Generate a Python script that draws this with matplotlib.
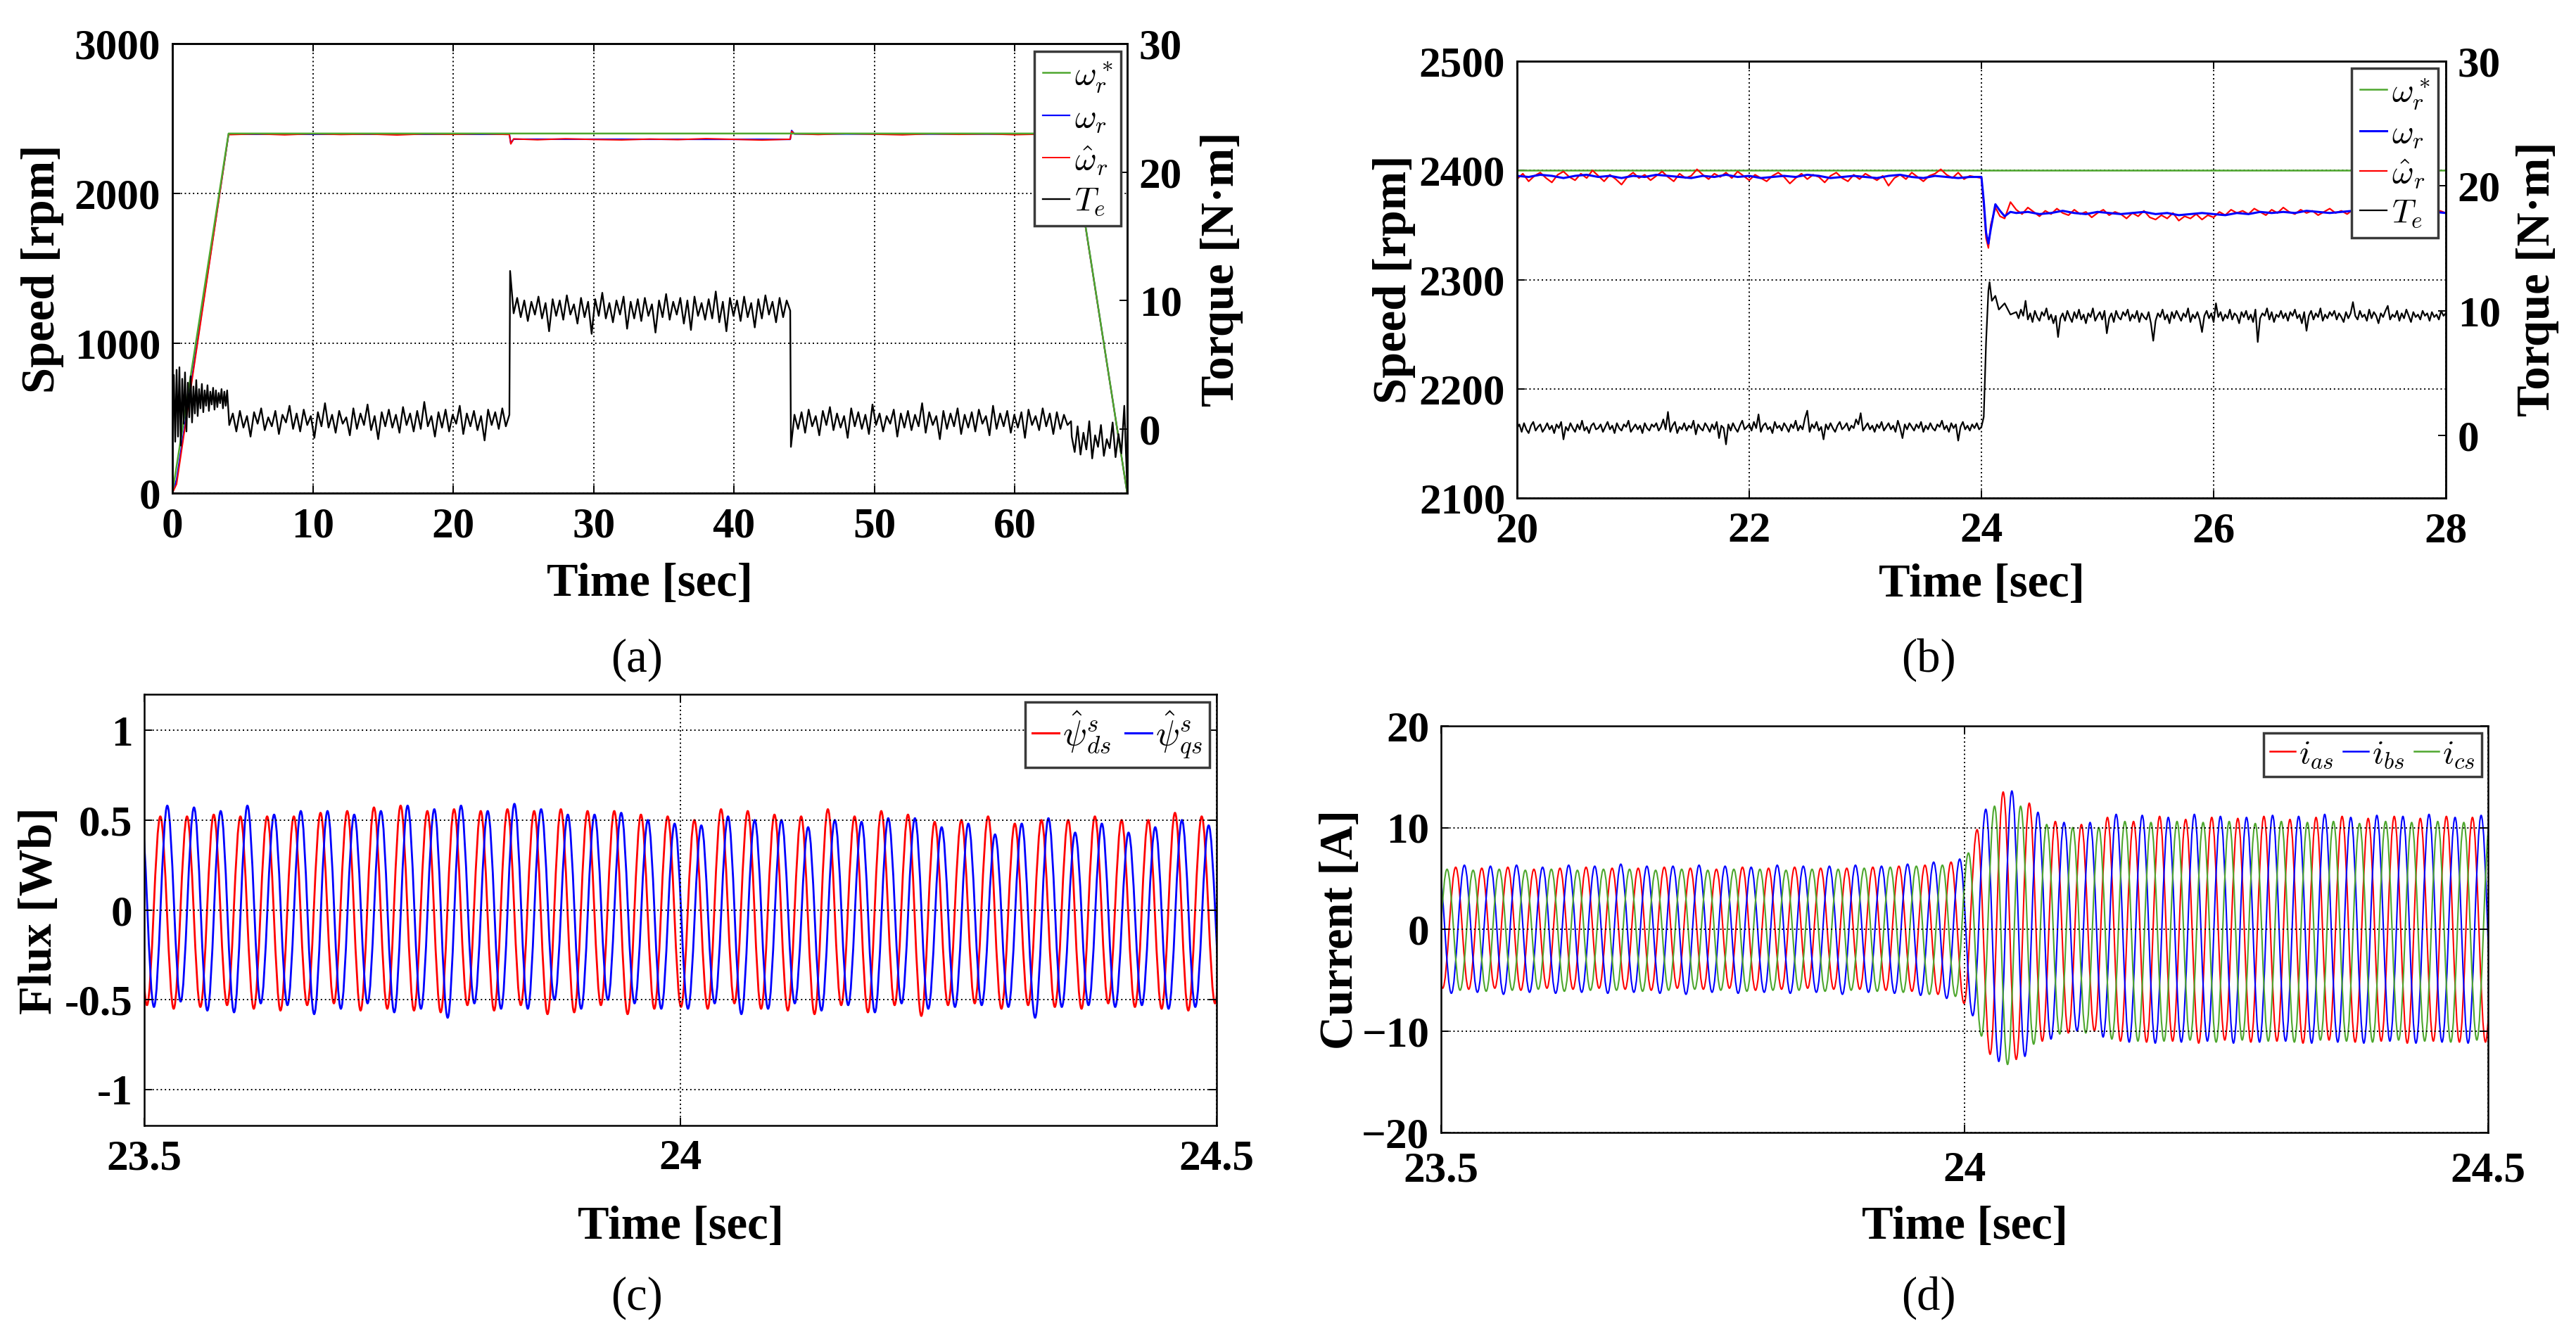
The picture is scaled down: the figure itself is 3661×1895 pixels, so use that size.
import numpy as np
import matplotlib
matplotlib.use('Agg')
import matplotlib.pyplot as plt
from matplotlib.path import Path
from matplotlib.patches import PathPatch
from matplotlib.lines import Line2D

# ======================= DATA =======================
# ---- (a) full run: speed [rpm] and torque [N.m] vs time [s]
a_ref_t = [0, 4, 64, 68]
a_ref_w = [0, 2400, 2400, 0]

a_wr_t = [0, 0.3, 4.0, 24.0, 24.1, 24.3, 44.0, 44.1, 44.3, 64.0, 68.0]
a_wr = [0, 90, 2395, 2395, 2335, 2362, 2361, 2420, 2397, 2396, 0]

a_wh_t = [0, 0.3, 4.0, 6, 8, 10, 12, 14, 16, 18, 20, 22, 24.0, 24.1, 24.3,
          26, 28, 30, 32, 34, 36, 38, 40, 42, 44.0, 44.1, 44.3,
          46, 48, 50, 52, 54, 56, 58, 60, 62, 64, 68]
a_wh = [0, 60, 2392, 2397, 2391, 2398, 2393, 2396, 2390, 2397, 2394, 2398, 2393, 2330, 2364,
        2358, 2365, 2360, 2357, 2363, 2359, 2366, 2361, 2356, 2362, 2415, 2398,
        2393, 2399, 2395, 2391, 2398, 2394, 2397, 2392, 2396, 2394, 0]

a_tq_A = [0.0, 4.2, -1.0, 4.6, -0.6, 4.8, -1.3, 3.9, 0.4, 4.4, -0.2, 3.6, 0.9, 4.1, 0.5, 3.3, 1.2, 3.8, 1.0, 3.1,
          1.6, 3.5, 1.3, 3.0, 1.8, 3.4, 1.4, 2.9, 1.9, 3.2, 1.5, 3.0, 1.7, 2.8, 2.0, 3.1, 1.6, 2.9, 1.8, 3.0, 1.2]
a_tq_B = [0.3, 1.2, -0.2, 1.4, 0.1, 1.0, -0.6, 1.3, 0.4, 1.6, -0.1, 0.9, 0.2, 1.4, -0.4, 1.1, 0.5, 1.8, 0.0, 1.2,
          -0.2, 1.5, 0.3, 1.0, -0.7, 1.3, 0.2, 2.0, 0.1, 1.1, -0.3, 1.4, 0.4, 0.9, -0.5, 1.6, 0.0, 1.2, 0.3, 1.9,
          -0.1, 1.0, -0.8, 1.3, 0.2, 1.5, 0.1, 1.1, -0.3, 1.7, 0.3, 1.2, -0.2, 1.4, 0.0, 2.1, 0.2, 1.0, -0.6, 1.3,
          0.1, 1.5, -0.2, 1.1, 0.4, 1.8, -0.4, 1.2, 0.2, 1.4, -0.1, 1.0, -0.9, 1.5, 0.3, 1.3, 0.0, 1.6, 0.2, 1.1]
a_tq_C = [12.3, 9.0, 10.2, 8.7, 10.0, 8.4, 9.9, 8.9, 10.3, 8.6, 9.8, 7.6, 10.1, 8.8, 10.0, 8.5, 10.4, 8.9, 9.7, 8.2,
          10.2, 8.7, 9.9, 7.4, 10.1, 8.8, 10.6, 8.6, 9.8, 8.3, 10.0, 8.9, 10.3, 7.8, 9.9, 8.6, 10.1, 8.4, 10.2, 8.8,
          9.7, 7.5, 10.0, 8.7, 10.5, 8.5, 9.9, 8.9, 10.2, 8.2, 10.0, 7.7, 10.3, 8.8, 9.8, 8.5, 10.1, 8.6, 10.7, 8.3,
          9.9, 7.6, 10.2, 8.8, 10.0, 8.4, 10.3, 8.7, 9.8, 7.9, 10.1, 8.6, 10.4, 8.9, 9.9, 8.3, 10.2, 8.7, 10.0, 9.2]
a_tq_D = [-1.4, 1.1, 0.0, 1.3, -0.3, 1.5, 0.2, 1.0, -0.5, 1.4, 0.3, 1.7, -0.1, 1.2, 0.1, 1.0, -0.7, 1.6, 0.2, 1.3,
          0.0, 1.1, -0.4, 1.9, 0.3, 1.2, -0.2, 1.0, 0.4, 1.5, -0.6, 1.2, 0.1, 1.4, -0.1, 1.1, 0.2, 2.0, -0.3, 1.3,
          0.3, 1.0, -0.8, 1.4, 0.0, 1.2, 0.2, 1.6, -0.4, 1.1, 0.1, 1.3, -0.2, 1.5, 0.4, 1.0, -0.5, 1.8, 0.0, 1.2,
          0.2, 1.4, -0.3, 1.1, 0.1, 1.3, -0.7, 1.5, 0.3, 1.0, -0.1, 1.6, 0.2, 1.2, -0.4, 1.3, 0.0, 1.1, 0.3, 0.6]
a_tq_E = [-0.6, -1.8, 0.2, -2.0, -0.3, -1.6, 0.6, -2.3, -0.5, -1.4, 0.3, -2.1, -0.8, -1.5, 0.5, -2.2, -0.4, -1.9, 1.8, -4.6]
a_tq_spans = [(0.0, 4.0), (4.05, 24.0), (24.05, 44.0), (44.05, 64.0), (64.05, 68.0)]

# ---- (b) zoom 20-28 s
b_ref_t = [20, 28]
b_ref_w = [2400, 2400]

b_wr_pre = [2395, 2394, 2396, 2395, 2393, 2395, 2396, 2394, 2395, 2393, 2395, 2394, 2396, 2395, 2394, 2393, 2395, 2394, 2396, 2394,
            2395, 2393, 2394, 2395, 2394, 2396, 2395, 2393, 2394, 2395, 2394, 2393, 2395, 2396, 2394, 2393, 2395, 2394, 2393, 2394, 2394]
b_wr_tr_t = [24.02, 24.04, 24.06, 24.08, 24.12, 24.16, 24.2, 24.25]
b_wr_tr = [2372, 2343, 2333, 2346, 2369, 2363, 2358, 2362]
b_wr_post = [2361, 2362, 2360, 2361, 2363, 2361, 2360, 2362, 2361, 2360, 2361, 2362, 2360, 2361, 2359, 2360, 2361, 2360, 2359, 2361,
             2360, 2362, 2361, 2362, 2361, 2363, 2362, 2361, 2362, 2363, 2361, 2362, 2361, 2362, 2363, 2361, 2362, 2361]

b_wh_pre = [2392, 2397, 2390, 2395, 2398, 2393, 2389, 2396, 2399, 2394, 2391, 2397, 2393, 2400, 2395, 2390, 2396, 2392, 2387, 2394,
            2398, 2393, 2396, 2391, 2395, 2399, 2394, 2390, 2397, 2393, 2395, 2401, 2396, 2392, 2397, 2394, 2398, 2393, 2399, 2395,
            2391, 2396, 2393, 2390, 2395, 2398, 2394, 2388, 2393, 2397, 2392, 2396, 2394, 2389, 2395, 2398, 2393, 2390, 2396, 2392,
            2397, 2394, 2391, 2395, 2386, 2393, 2396, 2392, 2398, 2394, 2390, 2395, 2397, 2401, 2396, 2393, 2398, 2392, 2395, 2394, 2393]
b_wh_tr_t = [24.02, 24.04, 24.06, 24.08, 24.12, 24.16, 24.2, 24.25]
b_wh_tr = [2368, 2338, 2329, 2350, 2366, 2358, 2356, 2371]
b_wh_post = [2364, 2360, 2366, 2362, 2358, 2363, 2360, 2365, 2361, 2359, 2364, 2360, 2362, 2357, 2361, 2364, 2359, 2362, 2360, 2356,
             2361, 2358, 2363, 2357, 2355, 2359, 2356, 2361, 2354, 2358, 2356, 2360, 2355, 2359, 2357, 2362, 2359, 2364, 2361, 2363,
             2360, 2365, 2362, 2359, 2364, 2361, 2366, 2362, 2360, 2364, 2361, 2363, 2359, 2362, 2365, 2361, 2363, 2360, 2364, 2362,
             2359, 2363, 2361, 2364, 2360, 2362, 2358, 2363, 2361, 2364, 2360, 2362, 2359, 2363, 2361]

b_tq_pre = [0.6, 0.9, 0.3, 1.0, 0.5, 0.2, 0.8, 1.1, 0.4, 0.7, 0.9, 0.3, 0.6, 1.0, 0.5, 0.8, 0.2, 0.9, 0.6, 1.1,
            -0.3, 0.7, 0.4, 1.0, 0.6, 0.3, 0.9, 0.5, 1.2, 0.4, 0.7, 0.2, 0.8, 1.0, 0.5, 0.6, 0.9, 0.3, 0.7, 1.1,
            0.5, 0.8, 0.2, 1.0, 0.6, 0.4, 0.9, 0.7, 1.2, 0.3, 0.6, 0.9, 0.5, 0.8, 0.2, 1.0, 0.6, 0.4, 0.9, 0.7,
            1.0, 0.4, 0.7, 1.3, 0.5, 1.9, 0.3, 0.8, 1.1, 0.2, 0.7, 0.5, 1.0, 0.4, 0.8, 0.6, 1.2, 0.1, 0.9, 0.6,
            0.4, 1.0, 0.7, 0.3, 0.9, 0.5, 1.1, -0.2, 0.8, 0.6, -0.7, 0.9, 0.4, 1.0, 0.6, 0.3, 0.8, 1.2, 0.5, 0.7,
            0.9, 0.4, 1.1, 0.6, 1.7, 0.3, 0.8, 1.0, 0.5, 0.7, 0.2, 1.1, 0.6, 0.8, 0.4, 1.0, 0.7, 0.3, 0.9, 0.6,
            1.2, 0.4, 0.8, 0.5, 1.4, 2.0, 0.3, 0.9, 0.6, 1.1, 0.4, 0.7, -0.3, 0.9, 0.5, 1.0, 0.6, 0.3, 0.8, 1.1,
            0.5, 0.7, 1.0, 0.4, 0.8, 0.6, 1.3, 0.9, 1.8, 0.4, 0.7, 1.0, 0.5, 0.8, 0.3, 0.9, 0.6, 1.1, 0.4, 0.7,
            1.0, 0.5, 0.8, 0.3, 1.2, 0.6, -0.2, 0.9, 0.5, 1.0, 0.7, 0.4, 0.9, 0.6, 1.1, 0.3, 0.8, 0.5, 1.0, 0.6,
            0.4, 0.9, 0.7, 1.2, 0.5, 0.8, 0.3, 1.0, 0.6, 0.9, -0.4, 0.7, 1.1, 0.5, 0.8, 0.4, 0.9, 0.6, 1.0, 0.5,
            0.7]
b_tq_tr_t = [24.02, 24.04, 24.06, 24.07, 24.09, 24.12, 24.15, 24.2, 24.25]
b_tq_tr = [1.5, 7.5, 11.6, 12.3, 10.8, 11.2, 10.1, 10.6, 9.7]
b_tq_post = [9.9, 9.4, 10.1, 9.6, 10.8, 9.3, 9.8, 9.1, 10.0, 9.5, 9.2, 9.9, 9.6, 10.2, 9.3, 9.7, 9.0, 9.6, 7.9, 9.4,
             9.8, 9.2, 10.0, 9.5, 9.1, 9.9, 9.4, 10.1, 9.3, 9.7, 9.0, 9.8, 9.5, 10.2, 9.2, 9.6, 9.9, 9.3, 10.0, 8.2,
             9.4, 9.8, 9.1, 10.0, 9.5, 9.3, 9.9, 9.6, 10.1, 9.2, 9.7, 9.4, 10.0, 9.1, 9.8, 9.5, 9.3, 9.9, 9.0, 7.6,
             9.2, 9.8, 9.5, 10.1, 9.3, 9.7, 9.0, 9.9, 9.4, 10.0, 9.6, 9.2, 9.8, 9.5, 10.2, 9.1, 9.7, 9.4, 9.9, 9.3,
             8.3, 9.6, 10.0, 9.4, 9.8, 9.1, 10.6, 9.5, 9.9, 9.2, 9.7, 9.4, 10.1, 9.3, 9.8, 9.6, 9.0, 9.9, 9.5, 10.0,
             9.3, 9.7, 9.1, 10.1, 7.5, 9.4, 9.8, 9.6, 10.2, 9.3, 9.9, 9.1, 9.7, 9.5, 10.0, 9.4, 9.8, 9.2, 9.9, 9.6,
             10.1, 9.4, 9.7, 9.0, 9.9, 8.4, 9.6, 10.0, 9.3, 9.8, 9.5, 10.2, 9.2, 9.7, 9.4, 9.9, 9.6, 10.0, 9.3, 9.8,
             9.5, 9.1, 9.9, 9.4, 9.8, 10.7, 9.6, 9.3, 10.0, 9.5, 9.7, 9.2, 10.1, 9.4, 9.9, 9.6, 9.0, 9.8, 9.5, 10.0,
             10.4, 9.3, 9.7, 9.5, 10.0, 9.2, 9.8, 9.4, 10.1, 9.6, 9.1, 9.9, 9.5, 9.7, 9.3, 10.0, 9.6, 9.8, 9.2, 9.9,
             9.5, 9.7, 9.3, 10.0, 9.6, 9.8]

# ---- (c) estimated stator flux: successive extrema (half-period spacing)
c_half_period = 0.01245
c_ds_t0 = 23.4901
c_ds = [0.52, -0.53, 0.52, -0.55, 0.52, -0.54, 0.53, -0.53, 0.52, -0.55, 0.52, -0.56, 0.52, -0.53, 0.54, -0.52,
        0.55, -0.56, 0.57, -0.55, 0.58, -0.56, 0.55, -0.57, 0.56, -0.53, 0.55, -0.56, 0.56, -0.53, 0.55, -0.58,
        0.56, -0.57, 0.55, -0.53, 0.55, -0.58, 0.53, -0.55, 0.52, -0.54,
        0.50, -0.55, 0.56, -0.52, 0.55, -0.55, 0.53, -0.56, 0.52, -0.58, 0.56, -0.53, 0.52, -0.57, 0.55, -0.53,
        0.53, -0.59, 0.49, -0.53, 0.50, -0.52, 0.52, -0.55, 0.48, -0.53, 0.50, -0.54, 0.50, -0.55, 0.52, -0.52,
        0.50, -0.54, 0.50, -0.55, 0.54, -0.56, 0.52, -0.52, 0.50]
c_qs_t0 = 23.4966
c_qs = [0.57, -0.54, 0.58, -0.51, 0.57, -0.56, 0.55, -0.57, 0.58, -0.52, 0.53, -0.53, 0.55, -0.58, 0.55, -0.55,
        0.53, -0.52, 0.55, -0.57, 0.58, -0.55, 0.56, -0.60, 0.58, -0.52, 0.55, -0.55, 0.59, -0.55, 0.56, -0.50,
        0.53, -0.55, 0.53, -0.50, 0.54, -0.52, 0.50, -0.55, 0.48, -0.55,
        0.47, -0.52, 0.52, -0.58, 0.50, -0.55, 0.50, -0.52, 0.46, -0.56, 0.50, -0.53, 0.49, -0.57, 0.51, -0.52,
        0.51, -0.55, 0.46, -0.54, 0.48, -0.53, 0.42, -0.54, 0.48, -0.60, 0.51, -0.54, 0.43, -0.53, 0.48, -0.54,
        0.43, -0.53, 0.46, -0.55, 0.50, -0.54, 0.47, -0.52, 0.48]

# ---- (d) phase currents: successive extrema
d_half_period = 0.01245
d_as_t0 = 23.4891
d_as = [6.0, -5.8, 6.1, -5.9, 6.0, -5.8, 6.1, -6.0, 5.9, -5.8, 6.0, -5.9, 6.1, -5.8, 6.0, -5.9, 6.0, -6.0, 6.1, -5.8,
        6.0, -5.9, 5.9, -5.8, 6.1, -6.0, 6.0, -5.9, 6.1, -5.8, 6.0, -5.9, 6.0, -5.9, 6.1, -6.0, 6.2, -6.1, 6.3, -6.4,
        6.6, -7.3, 9.8, -12.3, 13.5, -12.8, 12.4, -11.0, 10.6, -10.2, 10.3, -10.0, 11.0, -11.0, 10.6, -11.1,
        11.1, -11.0, 10.8, -11.2, 11.0, -10.9, 10.9, -11.1, 11.1, -11.0, 10.8, -11.2, 11.0, -10.9, 11.1, -11.1,
        10.9, -11.0, 11.1, -11.2, 10.9, -11.0, 11.1, -11.1, 11.0, -11.1, 10.9]
d_bs_t0 = 23.4974
d_bs = [6.2, -6.3, 6.3, -6.2, 6.2, -6.4, 6.3, -6.2, 6.1, -6.3, 6.3, -6.2, 6.2, -6.3, 6.4, -6.2, 6.2, -6.3, 6.2, -6.4,
        6.3, -6.2, 6.2, -6.3, 6.1, -6.2, 6.3, -6.3, 6.2, -6.2, 6.2, -6.4, 6.3, -6.2, 6.2, -6.3, 6.4, -6.5, 6.6, -6.8,
        6.9, -8.5, 11.8, -13.0, 13.6, -12.5, 11.5, -10.8, 10.5, -10.0, 10.5, -10.6, 11.3, -11.1, 11.2, -11.2,
        11.0, -11.1, 11.3, -11.0, 11.1, -11.2, 11.0, -11.1, 11.2, -11.0, 11.1, -11.2, 11.3, -11.1, 11.0, -11.2,
        11.2, -11.0, 11.1, -11.2, 11.3, -11.1, 11.0, -11.2, 11.2, -11.1, 11.0]
d_cs_t0 = 23.4933
d_cs = [-6.0, 5.9, -6.0, 5.8, -6.1, 5.9, -6.0, 5.8, -5.9, 5.9, -6.1, 5.8, -6.0, 5.9, -6.0, 5.9, -6.1, 5.8, -6.0, 5.9,
        -5.9, 5.8, -6.0, 5.9, -6.1, 5.9, -6.0, 5.8, -6.0, 5.9, -6.1, 5.9, -6.0, 6.0, -6.1, 6.1, -6.2, 6.2, -6.4, 6.3,
        -6.6, 7.5, -10.5, 12.1, -13.3, 12.1, -11.3, 10.3, -10.3, 10.0, -10.2, 10.0, -10.8, 10.6, -11.0, 10.5,
        -11.0, 10.6, -10.9, 10.5, -11.1, 10.6, -10.9, 10.4, -11.0, 10.6, -11.1, 10.5, -10.9, 10.6, -11.0, 10.4,
        -11.1, 10.6, -10.9, 10.5, -11.0, 10.6, -11.1, 10.5, -10.9, 10.6, -11.0]

# tick labels
a_xticks = [0, 10, 20, 30, 40, 50, 60]
a_yticks = [0, 1000, 2000, 3000]
a_tticks = [0, 10, 20, 30]
b_xticks = [20, 22, 24, 26, 28]
b_yticks = [2100, 2200, 2300, 2400, 2500]
c_xticks = [23.5, 24, 24.5]
c_xlabels = ['23.5', '24', '24.5']
c_yticks = [-1, -0.5, 0, 0.5, 1]
c_ylabels = ['-1', '-0.5', '0', '0.5', '1']
d_yticks = [-20, -10, 0, 10, 20]

# ======================= STYLE / LAYOUT =======================
plt.rcParams['mathtext.fontset'] = 'cm'
plt.rcParams['font.family'] = ['Liberation Serif', 'DejaVu Serif']
plt.rcParams['font.weight'] = 'bold'
plt.rcParams['font.size'] = 44

GREEN = '#4ea72e'
BLUE = '#0000ff'
RED = '#ff0000'

W, H = 3662, 1895
fig = plt.figure(figsize=(W / 100, H / 100), dpi=100)


def add_ax(x0, x1, y0, y1):
    return fig.add_axes([x0 / W, 1 - y1 / H, (x1 - x0) / W, (y1 - y0) / H])


def ftext(x, y, s, **kw):
    fig.text(x / W, 1 - y / H, s, ha='center', va='center', **kw)


def style(ax, right=True, xpad=14):
    for sp in ax.spines.values():
        sp.set_linewidth(1.8)
    ax.tick_params(direction='in', length=8, width=1.4, top=True, right=right, labelsize=44)
    ax.tick_params(axis='x', pad=xpad)
    ax.tick_params(axis='y', pad=12)
    ax.grid(True, color='k', ls=(0, (1, 2)), lw=1.4)


def smooth(ax, t0, step, vals, color, lw):
    t = t0 + step * np.arange(len(vals))
    verts = [(t[0], vals[0])]
    codes = [Path.MOVETO]
    for i in range(1, len(vals)):
        d = (t[i] - t[i - 1]) * 0.364
        verts += [(t[i - 1] + d, vals[i - 1]), (t[i] - d, vals[i]), (t[i], vals[i])]
        codes += [Path.CURVE4] * 3
    ax.add_patch(PathPatch(Path(verts, codes), fill=False, edgecolor=color, lw=lw))


def leg(ax, handles, labels, right, top, **kw):
    lg = ax.legend(handles, labels, loc='upper right', bbox_to_anchor=(right / W, 1 - top / H),
                   bbox_transform=fig.transFigure, borderaxespad=0, fancybox=False,
                   framealpha=1, edgecolor='#3a3a3a', **kw)
    lg.get_frame().set_linewidth(2.5)
    return lg


def twin(ax):
    ax2 = ax.twinx()
    for sp in ax2.spines.values():
        sp.set_linewidth(1.8)
    ax2.tick_params(direction='in', length=8, width=1.4, labelsize=44, pad=12)
    return ax2


# ---------------- (a) ----------------
axa = add_ax(245, 1602, 62, 701)
style(axa, right=False)
la_wr, = axa.plot(a_wr_t, a_wr, color=BLUE, lw=1.6)
la_wh, = axa.plot(a_wh_t, a_wh, color=RED, lw=1.4)
la_ref, = axa.plot(a_ref_t, a_ref_w, color=GREEN, lw=1.8)
axa.set_xlim(0, 68)
axa.set_ylim(0, 3000)
axa.set_xticks(a_xticks)
axa.set_yticks(a_yticks)
axa2 = twin(axa)
a_segs = [a_tq_A, a_tq_B, a_tq_C, a_tq_D, a_tq_E]
a_tq_t = np.concatenate([np.linspace(t0, t1, len(s)) for s, (t0, t1) in zip(a_segs, a_tq_spans)])
a_tq = np.concatenate(a_segs)
la_tq, = axa2.plot(a_tq_t, a_tq, color='k', lw=1.7)
axa2.set_ylim(-5, 30)
axa2.set_yticks(a_tticks)
leg(axa2, [la_ref, la_wr, la_wh, la_tq],
    [r'$\omega_r^*$', r'$\omega_r$', r'$\hat{\omega}_r$', r'$T_e$'], 1593, 73,
    fontsize=34, handlelength=0.8, handletextpad=0.15, labelspacing=0.3, borderpad=0.25)
ftext(923, 830, 'Time [sec]', fontsize=48)
ftext(61, 382, 'Speed [rpm]', fontsize=48, rotation=90)
ftext(1737, 383, 'Torque [N·m]', fontsize=48, rotation=90)
ftext(905, 938, '(a)', fontsize=48, fontweight='normal')

# ---------------- (b) ----------------
axb = add_ax(2156, 3476, 87, 708)
style(axb, right=False)
lb_ref, = axb.plot(b_ref_t, b_ref_w, color=GREEN, lw=1.8)
b_wh_t = np.concatenate([np.linspace(20, 24, len(b_wh_pre)), b_wh_tr_t, np.linspace(24.3, 28, len(b_wh_post))])
b_wh = np.concatenate([b_wh_pre, b_wh_tr, b_wh_post])
lb_wh, = axb.plot(b_wh_t, b_wh, color=RED, lw=1.6)
b_wr_t = np.concatenate([np.linspace(20, 24, len(b_wr_pre)), b_wr_tr_t, np.linspace(24.3, 28, len(b_wr_post))])
b_wr = np.concatenate([b_wr_pre, b_wr_tr, b_wr_post])
lb_wr, = axb.plot(b_wr_t, b_wr, color=BLUE, lw=2.2)
axb.set_xlim(20, 28)
axb.set_ylim(2100, 2500)
axb.set_xticks(b_xticks)
axb.set_yticks(b_yticks)
axb2 = twin(axb)
b_tq_t = np.concatenate([np.linspace(20, 24, len(b_tq_pre)), b_tq_tr_t, np.linspace(24.3, 28, len(b_tq_post))])
b_tq = np.concatenate([b_tq_pre, b_tq_tr, b_tq_post])
lb_tq, = axb2.plot(b_tq_t, b_tq, color='k', lw=1.6)
axb2.set_ylim(-5, 30)
axb2.set_yticks(a_tticks)
leg(axb2, [lb_ref, lb_wr, lb_wh, lb_tq],
    [r'$\omega_r^*$', r'$\omega_r$', r'$\hat{\omega}_r$', r'$T_e$'], 3465, 97,
    fontsize=34, handlelength=0.8, handletextpad=0.15, labelspacing=0.25, borderpad=0.25)
ftext(2816, 832, 'Time [sec]', fontsize=48)
ftext(1982, 397, 'Speed [rpm]', fontsize=48, rotation=90)
ftext(3607, 397, 'Torque [N·m]', fontsize=48, rotation=90)
ftext(2741, 938, '(b)', fontsize=48, fontweight='normal')

# ---------------- (c) ----------------
axc = add_ax(205, 1729, 987, 1600)
style(axc)
smooth(axc, c_ds_t0, c_half_period, c_ds, RED, 2.0)
smooth(axc, c_qs_t0, c_half_period, c_qs, BLUE, 2.0)
axc.set_xlim(23.5, 24.5)
axc.set_ylim(-1.2, 1.2)
axc.set_xticks(c_xticks)
axc.set_xticklabels(c_xlabels)
axc.set_yticks(c_yticks)
axc.set_yticklabels(c_ylabels)
leg(axc, [Line2D([], [], color=RED, lw=2.2), Line2D([], [], color=BLUE, lw=2.2)],
    [r'$\hat{\psi}_{ds}^{s}$', r'$\hat{\psi}_{qs}^{s}$'], 1719, 998, ncol=2,
    fontsize=36, handlelength=0.75, handletextpad=0.1, columnspacing=0.4, borderpad=0.2)
ftext(967, 1744, 'Time [sec]', fontsize=48)
ftext(57, 1295, 'Flux [Wb]', fontsize=48, rotation=90)
ftext(905, 1845, '(c)', fontsize=48, fontweight='normal')

# ---------------- (d) ----------------
axd = add_ax(2048, 3536, 1032, 1610)
style(axd, xpad=19)
smooth(axd, d_as_t0, d_half_period, d_as, RED, 1.5)
smooth(axd, d_bs_t0, d_half_period, d_bs, BLUE, 1.5)
smooth(axd, d_cs_t0, d_half_period, d_cs, GREEN, 1.5)
axd.set_xlim(23.5, 24.5)
axd.set_ylim(-20, 20)
axd.set_xticks(c_xticks)
axd.set_xticklabels(c_xlabels)
axd.set_yticks(d_yticks)
leg(axd, [Line2D([], [], color=RED, lw=1.8), Line2D([], [], color=BLUE, lw=1.8),
          Line2D([], [], color=GREEN, lw=1.8)],
    [r'$i_{as}$', r'$i_{bs}$', r'$i_{cs}$'], 3527, 1042, ncol=3,
    fontsize=34, handlelength=0.75, handletextpad=0.1, columnspacing=0.3, borderpad=0.2)
ftext(2792, 1745, 'Time [sec]', fontsize=48)
ftext(1906, 1322, 'Current [A]', fontsize=48, rotation=90)
ftext(2741, 1845, '(d)', fontsize=48, fontweight='normal')

fig.savefig('out.png', dpi=100)
